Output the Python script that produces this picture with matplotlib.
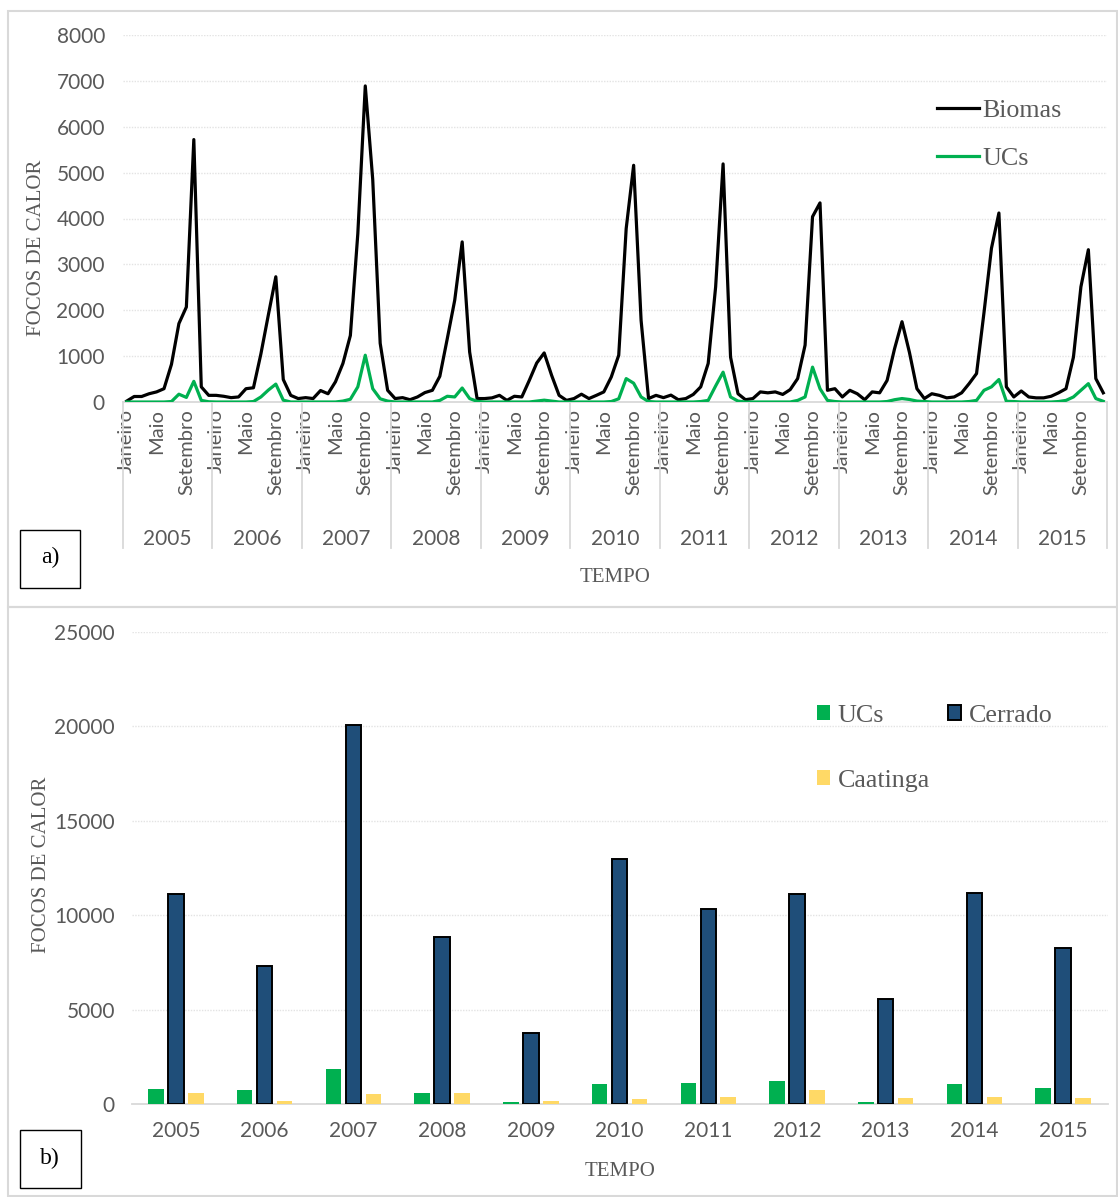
import matplotlib
matplotlib.use("Agg")
import matplotlib.pyplot as plt
from matplotlib.patches import Rectangle
from matplotlib.patches import Patch

# ---------------- data ----------------
years = ["2005", "2006", "2007", "2008", "2009", "2010", "2011", "2012", "2013", "2014", "2015"]
month_labels = ["Janeiro", "Maio", "Setembro"]
month_label_idx = [0, 4, 8]

biomas = [
    20, 120, 120, 180, 220, 290, 820, 1710, 2070, 5720, 330, 145,          # 2005
    145, 125, 95, 110, 290, 310, 1050, 1900, 2730, 490, 145, 75,           # 2006
    95, 75, 250, 180, 440, 840, 1450, 3670, 6890, 4850, 1280, 255,         # 2007
    75, 95, 50, 110, 205, 255, 560, 1380, 2220, 3490, 1090, 75,            # 2008
    75, 90, 145, 35, 125, 110, 470, 850, 1070, 580, 145, 35,               # 2009
    75, 170, 75, 145, 220, 545, 1020, 3780, 5160, 1780, 75, 145,           # 2010
    95, 150, 50, 75, 165, 330, 840, 2510, 5190, 980, 180, 50,              # 2011
    75, 220, 200, 220, 165, 270, 510, 1240, 4040, 4340, 255, 290,          # 2012
    110, 255, 180, 50, 220, 200, 470, 1160, 1750, 1080, 290, 75,           # 2013
    180, 145, 90, 110, 200, 400, 620, 1950, 3350, 4120, 330, 110,          # 2014
    240, 110, 90, 90, 125, 200, 290, 980, 2510, 3320, 510, 200,            # 2015
]
ucs_monthly = [
    0, 0, 0, 0, 0, 0, 10, 170, 100, 450, 35, 5,                            # 2005
    0, 0, 0, 0, 0, 10, 110, 260, 390, 40, 0, 0,                            # 2006
    0, 0, 0, 0, 0, 20, 60, 330, 1020, 290, 70, 20,                         # 2007
    0, 0, 0, 0, 0, 0, 35, 125, 110, 305, 75, 15,                           # 2008
    0, 0, 0, 0, 0, 0, 0, 20, 40, 20, 0, 0,                                 # 2009
    0, 0, 0, 0, 0, 10, 70, 510, 410, 110, 10, 0,                           # 2010
    0, 0, 0, 0, 0, 10, 35, 350, 650, 110, 20, 0,                           # 2011
    0, 0, 0, 0, 0, 0, 35, 110, 760, 290, 35, 10,                           # 2012
    0, 0, 0, 0, 0, 0, 10, 50, 75, 55, 20, 10,                              # 2013
    0, 0, 0, 0, 0, 10, 35, 255, 330, 490, 15, 10,                          # 2014
    0, 0, 0, 0, 0, 10, 35, 110, 255, 400, 75, 15,                          # 2015
]

ucs_annual = [790, 720, 1860, 600, 90, 1060, 1110, 1220, 125, 1060, 830]
cerrado_annual = [11100, 7300, 20080, 8870, 3750, 12970, 10320, 11110, 5550, 11170, 8250]
caatinga_annual = [600, 140, 550, 600, 140, 250, 350, 740, 300, 350, 300]

# ---------------- style ----------------
W, H = 1118, 1197
DPI = 100
GRAY_TXT = "#595959"
GRID = "#d9d9d9"
GREEN = "#00B050"
NAVY = "#1F4E79"
YELLOW = "#FFD966"
SANS = ["Lato", "DejaVu Sans"]
SERIF = ["Liberation Serif", "DejaVu Serif"]

plt.rcParams["font.family"] = SANS

fig = plt.figure(figsize=(W / DPI, H / DPI), dpi=DPI)


def fx(px):
    return px / W


def fy(py):
    return 1 - py / H


# panel borders
fig.patches.append(Rectangle((fx(8), fy(607)), fx(1117) - fx(8), fy(11) - fy(607),
                             transform=fig.transFigure, fill=False, edgecolor=GRID, lw=1.5))
fig.patches.append(Rectangle((fx(8), fy(1196)), fx(1117) - fx(8), fy(607) - fy(1196),
                             transform=fig.transFigure, fill=False, edgecolor=GRID, lw=1.5))

# ---------------- top chart ----------------
ax1 = fig.add_axes([fx(123), fy(402), fx(1107) - fx(123), fy(35) - fy(402)])
n = len(biomas)
xs = [i + 0.5 for i in range(n)]
ax1.plot(xs, biomas, color="black", lw=2.3, label="Biomas", zorder=3)
ax1.plot(xs, ucs_monthly, color=GREEN, lw=2.3, label="UCs", zorder=3)
ax1.set_xlim(0, n)
ax1.set_ylim(0, 8000)
ax1.set_yticks(range(0, 8001, 1000))
ax1.yaxis.grid(True, color="#e3e3e3", lw=1.0, ls=(0, (1, 1)))
ax1.set_axisbelow(True)
for s in ["left", "right", "top"]:
    ax1.spines[s].set_visible(False)
ax1.spines["bottom"].set_color(GRID)
ax1.spines["bottom"].set_linewidth(1.3)
ax1.tick_params(axis="y", length=0, pad=13, labelsize=15, labelcolor=GRAY_TXT)

ticks = []
tlabels = []
for k in range(len(years)):
    for mi, ml in zip(month_label_idx, month_labels):
        ticks.append(12 * k + mi + 0.5)
        tlabels.append(ml)
ax1.set_xticks(ticks)
ax1.set_xticklabels(tlabels, rotation=90, fontsize=14.5, color=GRAY_TXT)
ax1.tick_params(axis="x", length=0, pad=5)

tr = ax1.get_xaxis_transform()
for k in range(len(years) + 1):
    ax1.plot([12 * k, 12 * k], [0, -0.398], transform=tr, color=GRID, lw=1.3, clip_on=False)
for k, y in enumerate(years):
    ax1.text(12 * k + 6, -0.372, y, transform=tr, ha="center", va="center",
             fontsize=15, color=GRAY_TXT)

leg1 = ax1.legend(loc="upper left", bbox_to_anchor=(fx(937), fy(99)), bbox_transform=fig.transFigure,
                  frameon=False, borderpad=0, borderaxespad=0, handlelength=1.6, handletextpad=0.15,
                  labelspacing=0.95, prop={"family": SERIF, "size": 18.7})
for t in leg1.get_texts():
    t.set_color(GRAY_TXT)

fig.text(fx(37), fy(248), "FOCOS DE CALOR", rotation=90, ha="center", va="center",
         family=SERIF, fontsize=15, color=GRAY_TXT)
fig.text(fx(615), fy(577), "TEMPO", ha="center", va="center", family=SERIF, fontsize=15, color=GRAY_TXT)

fig.patches.append(Rectangle((fx(20), fy(588)), fx(80) - fx(20), fy(530) - fy(588),
                             transform=fig.transFigure, fill=False, edgecolor="black", lw=1.0))
fig.text(fx(50), fy(557), "a)", ha="center", va="center", family=SERIF, fontsize=17, color="black")

# ---------------- bottom chart ----------------
ax2 = fig.add_axes([fx(131.6), fy(1104), fx(1107.5) - fx(131.6), fy(632) - fy(1104)])
xpos = list(range(len(years)))
bw = 0.175
off = 0.225
ax2.bar([x - off for x in xpos], ucs_annual, width=bw, color=GREEN, label="UCs", zorder=3)
ax2.bar(xpos, cerrado_annual, width=bw, color=NAVY, edgecolor="black", lw=1.4, label="Cerrado", zorder=3)
ax2.bar([x + off for x in xpos], caatinga_annual, width=bw, color=YELLOW, label="Caatinga", zorder=3)
ax2.set_xlim(-0.5, len(years) - 0.5)
ax2.set_ylim(0, 25000)
ax2.set_yticks(range(0, 25001, 5000))
ax2.yaxis.grid(True, color="#e3e3e3", lw=1.0, ls=(0, (1, 1)))
ax2.set_axisbelow(True)
for s in ["left", "right", "top"]:
    ax2.spines[s].set_visible(False)
ax2.spines["bottom"].set_color(GRID)
ax2.spines["bottom"].set_linewidth(1.3)
ax2.set_xticks(xpos)
ax2.set_xticklabels(years)
ax2.tick_params(axis="x", length=0, pad=12, labelsize=15, labelcolor=GRAY_TXT)
ax2.tick_params(axis="y", length=0, pad=12, labelsize=15, labelcolor=GRAY_TXT)

h_ucs = Patch(facecolor=GREEN, edgecolor="none", label="UCs")
h_cer = Patch(facecolor=NAVY, edgecolor="black", lw=1.4, label="Cerrado")
h_caa = Patch(facecolor=YELLOW, edgecolor="none", label="Caatinga")
leg2 = ax2.legend(handles=[h_ucs, h_caa, h_cer], loc="upper left", ncol=2,
                  bbox_to_anchor=(fx(817), fy(705)), bbox_transform=fig.transFigure,
                  frameon=False, borderpad=0, borderaxespad=0, handlelength=0.5, handleheight=0.5,
                  handletextpad=0.3, labelspacing=1.65, columnspacing=0.7,
                  prop={"family": SERIF, "size": 18.7})
for t in leg2.get_texts():
    t.set_color(GRAY_TXT)

fig.text(fx(42), fy(865), "FOCOS DE CALOR", rotation=90, ha="center", va="center",
         family=SERIF, fontsize=15, color=GRAY_TXT)
fig.text(fx(620), fy(1172), "TEMPO", ha="center", va="center", family=SERIF, fontsize=15, color=GRAY_TXT)

fig.patches.append(Rectangle((fx(20), fy(1188)), fx(81) - fx(20), fy(1130) - fy(1188),
                             transform=fig.transFigure, fill=False, edgecolor="black", lw=1.0))
fig.text(fx(50), fy(1158), "b)", ha="center", va="center", family=SERIF, fontsize=17, color="black")

fig.savefig("out.png", dpi=DPI, facecolor="white")
